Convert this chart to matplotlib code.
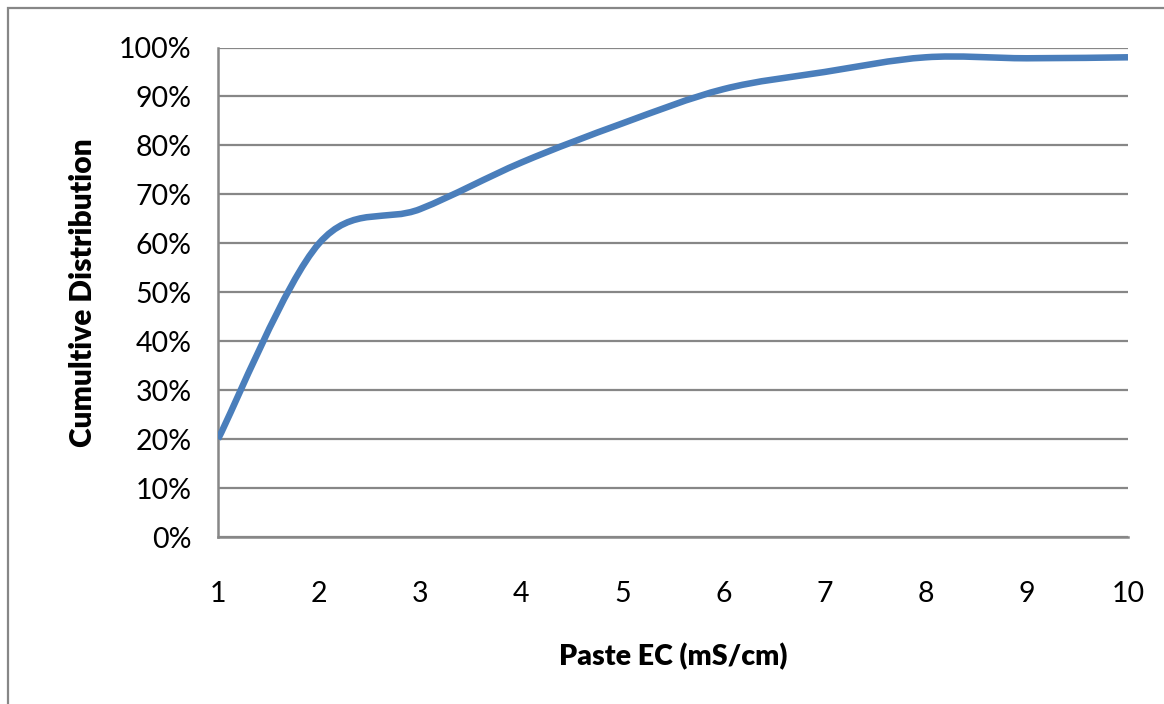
import matplotlib.pyplot as plt
import matplotlib.patches as patches
from matplotlib.path import Path
from matplotlib.ticker import PercentFormatter

# paste EC values (mS/cm) and cumulative share of samples
ec = [1, 2, 3, 4, 5, 6, 7, 8, 9, 10]
cumul = [0.20, 0.60, 0.67, 0.765, 0.845, 0.915, 0.95, 0.98, 0.978, 0.98]

yticks = [0, 0.1, 0.2, 0.3, 0.4, 0.5, 0.6, 0.7, 0.8, 0.9, 1.0]

gris = '#878787'
azul = '#4A7EBB'

plt.rcParams['font.family'] = ['Lato', 'DejaVu Sans']

fig = plt.figure(figsize=(11.64, 7.04), dpi=100)
ax = fig.add_axes([218 / 1164, 1 - 537 / 704, 910 / 1164, 489.5 / 704])

# moldura cinza do grafico
borda = patches.Rectangle((8 / 1164, -0.1), 1.2, (704 - 8) / 704 + 0.1,
                          transform=fig.transFigure, fill=False,
                          edgecolor=gris, linewidth=1.6)
fig.patches.append(borda)

# curva suavizada (bezier cubica no estilo do excel)
pts = list(zip(ec, cumul))
n = len(pts)
verts = [pts[0]]
codes = [Path.MOVETO]
for i in range(n - 1):
    p0 = pts[max(i - 1, 0)]
    p1 = pts[i]
    p2 = pts[i + 1]
    p3 = pts[min(i + 2, n - 1)]
    c1 = (p1[0] + (p2[0] - p0[0]) / 6, p1[1] + (p2[1] - p0[1]) / 6)
    c2 = (p2[0] - (p3[0] - p1[0]) / 6, p2[1] - (p3[1] - p1[1]) / 6)
    verts += [c1, c2, p2]
    codes += [Path.CURVE4] * 3

curva = patches.PathPatch(Path(verts, codes), facecolor='none', edgecolor=azul,
                          linewidth=4.7, capstyle='butt', zorder=3)
ax.add_patch(curva)

ax.set_xlim(1, 10)
ax.set_ylim(0, 1)
ax.set_xticks(ec)
ax.set_yticks(yticks)
ax.yaxis.set_major_formatter(PercentFormatter(1.0, decimals=0))
ax.tick_params(length=0, labelsize=20.5, colors='black')
ax.tick_params(axis='x', pad=32)
ax.tick_params(axis='y', pad=19)

ax.grid(axis='y', color=gris, linewidth=1.6)
ax.set_axisbelow(True)
for lado in ['top', 'right']:
    ax.spines[lado].set_visible(False)
for lado in ['left', 'bottom']:
    ax.spines[lado].set_color(gris)
    ax.spines[lado].set_linewidth(1.8)

ax.set_xlabel('Paste EC (mS/cm)', fontsize=20.5, fontweight='heavy')
ax.set_ylabel('Cumultive Distribution', fontsize=21.5, fontweight='heavy')
ax.yaxis.set_label_coords(-121 / 910, 0.5)
ax.xaxis.set_label_coords(0.5, -106 / 489.5)

fig.savefig('out.png', dpi=100)
